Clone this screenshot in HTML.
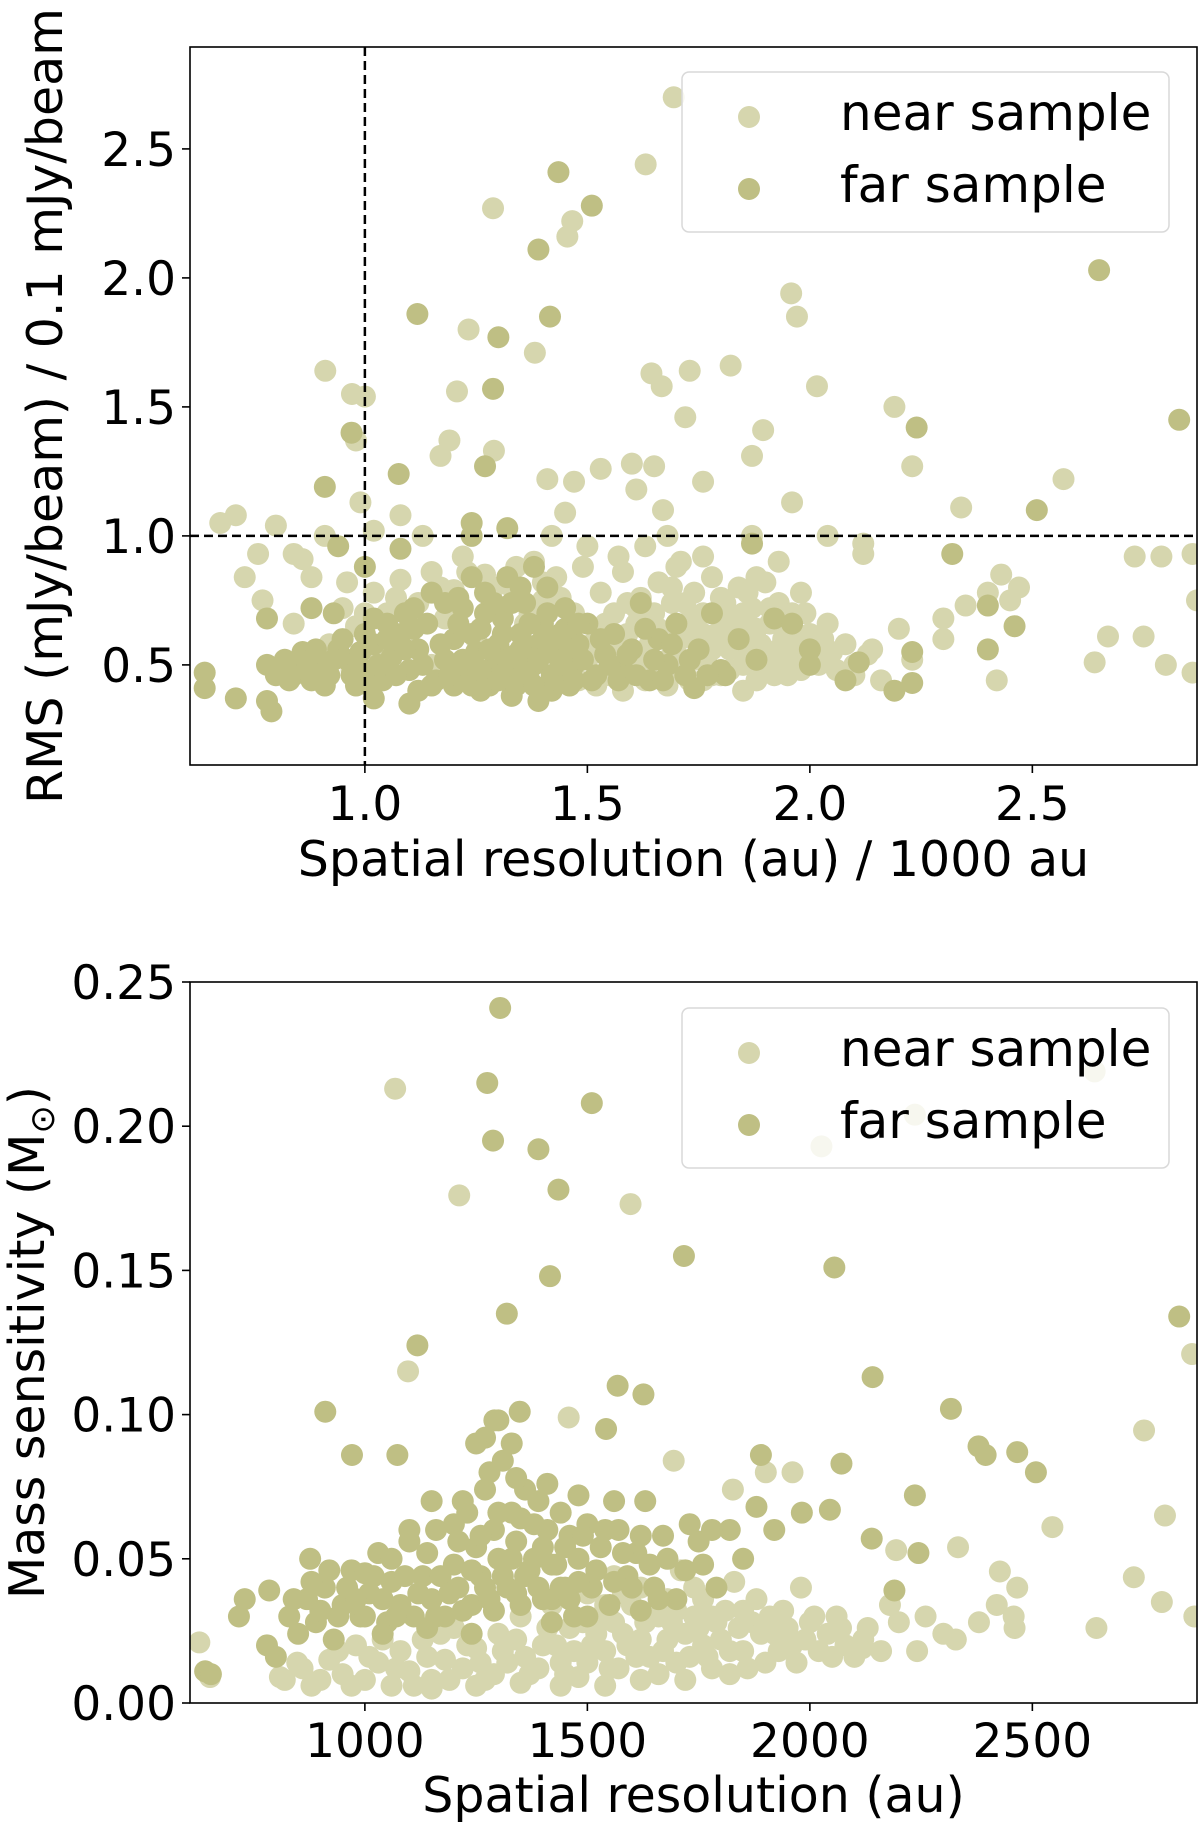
<!DOCTYPE html>
<html><head><meta charset="utf-8"><style>
html,body{margin:0;padding:0;background:#fff;}
svg{display:block;font-family:"DejaVu Sans","Liberation Sans",sans-serif;}
</style></head><body>
<svg id="fig" width="1200" height="1822" viewBox="0 0 1200 1822" xmlns="http://www.w3.org/2000/svg">
<g id="top"></g>
<g id="bot"></g>
</svg>
<script>
// ---- Top panel data (x: resolution / 1000 au, y: RMS / 0.1 mJy/beam) ----
const topNear = [[1.694,2.70],[1.631,2.44],[1.288,2.27],[1.466,2.22],[1.455,2.16],[1.958,1.94],[1.971,1.85],[1.233,1.80],[1.382,1.71],[1.822,1.66],[0.911,1.64],[1.644,1.63],[1.730,1.64],[2.016,1.58],[1.207,1.56],[1.667,1.58],[0.971,1.55],[1.0,1.54],[2.19,1.50],[1.72,1.46],[1.895,1.41],[1.19,1.37],[1.29,1.33],[1.87,1.31],[1.17,1.31],[0.98,1.37],[1.60,1.28],[1.65,1.27],[1.41,1.22],[1.53,1.26],[1.47,1.21],[1.76,1.21],[2.23,1.27],[2.57,1.22],[1.61,1.18],[0.99,1.13],[1.96,1.13],[2.34,1.11],[1.45,1.09],[1.67,1.10],[1.08,1.08],[0.675,1.05],[0.71,1.08],[0.80,1.04],[0.91,1.00],[1.02,1.02],[1.42,1.0],[1.68,1.0],[1.87,1.0],[2.04,1.0],[2.12,0.97],[2.12,0.93],[2.73,0.92],[2.79,0.92],[2.86,0.93],[0.84,0.93],[0.76,0.93],[0.73,0.84],[0.77,0.75],[2.43,0.85],[2.47,0.80],[2.87,0.75],[2.67,0.61],[2.75,0.61],[2.64,0.51],[2.80,0.50],[2.86,0.47],[2.42,0.44],[2.23,0.52],[2.30,0.60],[2.30,0.68],[2.35,0.73],[2.40,0.78],[2.45,0.75],[2.20,0.64],[2.14,0.56],[2.10,0.50],[2.05,0.55],
[0.92,0.58],[0.95,0.72],[0.98,0.65],[1.02,0.78],[1.05,0.70],[1.08,0.83],[1.10,0.62],[1.12,0.74],[1.15,0.86],[1.18,0.68],[1.20,0.79],[1.22,0.92],[1.25,0.60],[1.27,0.85],[1.30,0.72],[1.33,0.80],[1.36,0.66],[1.38,0.90],[1.40,0.75],[1.43,0.84],[1.45,0.58],[1.47,0.70],[1.49,0.88],[1.50,0.52],[1.52,0.64],[1.53,0.78],[1.55,0.46],[1.56,0.70],[1.57,0.58],[1.58,0.86],[1.60,0.50],[1.61,0.66],[1.62,0.76],[1.63,0.44],[1.64,0.58],[1.65,0.70],[1.66,0.82],[1.67,0.48],[1.68,0.62],[1.69,0.74],[1.70,0.54],[1.71,0.90],[1.72,0.66],[1.73,0.44],[1.74,0.78],[1.75,0.58],[1.76,0.70],[1.77,0.50],[1.78,0.84],[1.79,0.62],[1.80,0.46],[1.81,0.74],[1.82,0.56],[1.83,0.68],[1.84,0.80],[1.85,0.50],[1.86,0.62],[1.87,0.72],[1.88,0.44],[1.89,0.58],[1.90,0.82],[1.91,0.66],[1.92,0.52],[1.93,0.74],[1.94,0.60],[1.95,0.46],[1.96,0.70],[1.97,0.56],[1.98,0.78],[2.00,0.62],[2.02,0.50],[2.04,0.66],[2.06,0.48],[2.08,0.58],[2.10,0.46],[2.13,0.54],[2.16,0.44],[1.35,0.45],[1.42,0.50],[1.48,0.44],[1.58,0.40],[1.52,0.42],[1.68,0.42],[1.25,0.48],[1.15,0.50],[1.03,0.55],[0.97,0.48],[0.88,0.84],[0.86,0.91],[0.84,0.66],[1.13,1.00],[1.50,0.96],[1.57,0.92],[1.63,0.96],[1.70,0.88],[1.88,0.84],[1.93,0.90],[1.76,0.92],
[1.51,0.58],[1.54,0.66],[1.56,0.52],[1.59,0.62],[1.61,0.72],[1.63,0.54],[1.66,0.64],[1.68,0.52],[1.71,0.60],[1.72,0.74],[1.74,0.52],[1.76,0.62],[1.78,0.56],[1.79,0.70],[1.81,0.64],[1.82,0.48],[1.84,0.58],[1.85,0.70],[1.87,0.54],[1.88,0.64],[1.90,0.50],[1.91,0.72],[1.93,0.56],[1.94,0.66],[1.96,0.52],[1.97,0.62],[1.99,0.70],[2.01,0.56],[2.03,0.60],[1.86,0.78],[1.80,0.76],[1.74,0.68],[1.69,0.80],[1.64,0.66],[1.59,0.74],[1.54,0.60],[1.46,0.64],[1.44,0.76],[1.40,0.82],[1.37,0.70],[1.34,0.88],[1.29,0.80],[1.17,0.80],[1.23,0.86],[1.07,0.76],[1.00,0.70],[0.96,0.82],[1.85,0.40],[1.76,0.44],[1.62,0.48],[1.70,0.48],[1.78,0.46],[1.92,0.46],[1.98,0.48],[1.73,0.62]];
const topFar = [[1.435,2.41],[1.51,2.28],[1.39,2.11],[2.65,2.03],[1.118,1.86],[1.416,1.85],[1.30,1.77],[1.288,1.57],[2.83,1.45],[2.24,1.42],[0.97,1.40],[1.076,1.24],[1.27,1.27],[0.91,1.19],[2.51,1.10],[1.24,1.05],[1.32,1.03],[1.24,1.0],[0.94,0.96],[1.87,0.97],[2.32,0.93],[1.08,0.95],[1.0,0.88],[0.88,0.72],[0.78,0.68],[2.46,0.65],[2.40,0.73],[2.23,0.55],[2.40,0.56],[0.64,0.47],[0.64,0.41],[0.71,0.37],[0.78,0.36],[0.79,0.32],[0.84,0.46],[1.02,0.37],[1.10,0.35],[1.39,0.36],[1.74,0.41],[2.19,0.40],[2.23,0.43],[2.08,0.44],[2.0,0.50],[2.11,0.51],[1.81,0.46],
[0.78,0.50],[0.80,0.46],[0.82,0.52],[0.84,0.48],[0.86,0.55],[0.88,0.44],[0.90,0.50],[0.92,0.46],[0.94,0.56],[0.96,0.52],[0.98,0.42],[1.00,0.48],[1.02,0.58],[1.04,0.44],[1.06,0.53],[1.08,0.62],[1.10,0.48],[1.12,0.56],[1.14,0.66],[1.16,0.44],[1.18,0.52],[1.20,0.60],[1.22,0.72],[1.23,0.46],[1.25,0.55],[1.26,0.64],[1.27,0.78],[1.28,0.42],[1.29,0.50],[1.30,0.58],[1.31,0.68],[1.32,0.84],[1.33,0.46],[1.34,0.54],[1.35,0.62],[1.36,0.74],[1.37,0.44],[1.38,0.50],[1.39,0.58],[1.40,0.66],[1.41,0.80],[1.42,0.46],[1.43,0.54],[1.44,0.62],[1.45,0.72],[1.46,0.42],[1.47,0.50],[1.48,0.58],[1.50,0.66],[1.52,0.46],[1.54,0.54],[1.56,0.62],[1.58,0.48],[1.60,0.56],[1.62,0.74],[1.64,0.44],[1.66,0.60],[1.68,0.50],[1.70,0.66],[1.72,0.46],[1.75,0.56],[1.78,0.70],[1.80,0.48],[1.84,0.60],[1.88,0.52],[1.92,0.68],[1.96,0.66],[2.00,0.56],[1.15,0.78],[1.05,0.66],[0.95,0.60],[1.24,0.84],[1.18,0.74],[1.38,0.88],[1.12,0.40],[1.20,0.42],[1.26,0.40],[1.33,0.38],[1.42,0.40],[0.93,0.70],[1.00,0.62],[1.09,0.70],
[0.83,0.44],[0.87,0.50],[0.89,0.56],[0.91,0.42],[0.93,0.52],[0.97,0.46],[0.99,0.55],[1.01,0.42],[1.03,0.50],[1.05,0.60],[1.07,0.46],[1.09,0.56],[1.11,0.64],[1.13,0.50],[1.15,0.42],[1.17,0.58],[1.19,0.46],[1.21,0.66],[1.22,0.52],[1.24,0.42],[1.24,0.62],[1.26,0.48],[1.27,0.70],[1.28,0.56],[1.30,0.44],[1.31,0.62],[1.32,0.52],[1.33,0.74],[1.34,0.42],[1.35,0.56],[1.36,0.48],[1.37,0.66],[1.38,0.42],[1.39,0.52],[1.40,0.60],[1.41,0.70],[1.42,0.56],[1.43,0.44],[1.44,0.50],[1.45,0.64],[1.46,0.56],[1.47,0.44],[1.48,0.66],[1.49,0.52],[1.51,0.44],[1.53,0.60],[1.55,0.50],[1.57,0.44],[1.59,0.54],[1.61,0.46],[1.63,0.64],[1.65,0.52],[1.67,0.44],[1.69,0.58],[1.73,0.52],[1.77,0.46],[1.21,0.76],[1.29,0.74],[1.35,0.80],[1.11,0.72],[1.02,0.68]];
const topXTicks = [1.0,1.5,2.0,2.5];
const topYTicks = [0.5,1.0,1.5,2.0,2.5];
const topXTickLabels = ["1.0","1.5","2.0","2.5"];
const topYTickLabels = ["0.5","1.0","1.5","2.0","2.5"];
const topRefX = 1.0, topRefY = 1.0;

// ---- Bottom panel data (x: resolution au, y: mass sensitivity Msun) ----
const botNear = [[1068,0.213],[1212,0.176],[1597,0.173],[2640,0.219],[2026,0.193],[2236,0.204],[1097,0.115],[2859,0.121],[2751,0.0945],[2798,0.065],[2545,0.061],[2728,0.0436],[2791,0.035],[2864,0.030],[2644,0.026],[2466,0.040],[2427,0.0456],[2333,0.054],[2458,0.030],[2194,0.053],[1961,0.080],[1901,0.080],[1827,0.074],[1694,0.084],[1458,0.099],[2328,0.022],[2241,0.018],[2118,0.019],[628,0.021],[652,0.009],[809,0.009],[848,0.014],
[820,0.008],[860,0.012],[880,0.006],[920,0.015],[950,0.010],[980,0.020],[1000,0.008],[1030,0.014],[1060,0.006],[1080,0.018],[1100,0.011],[1130,0.022],[1150,0.008],[1180,0.015],[1200,0.026],[1220,0.012],[1250,0.019],[1270,0.008],[1300,0.024],[1320,0.014],[1350,0.030],[1370,0.010],[1400,0.020],[1420,0.034],[1440,0.014],[1460,0.026],[1480,0.009],[1500,0.038],[1510,0.020],[1530,0.030],[1550,0.012],[1560,0.044],[1580,0.024],[1600,0.034],[1610,0.016],[1630,0.028],[1650,0.040],[1660,0.010],[1680,0.022],[1700,0.032],[1710,0.046],[1730,0.016],[1750,0.026],[1760,0.036],[1780,0.012],[1800,0.022],[1810,0.032],[1830,0.042],[1850,0.018],[1870,0.028],[1880,0.036],[1900,0.014],[1920,0.024],[1940,0.032],[1960,0.020],[1980,0.040],[2000,0.028],[2020,0.018],[2040,0.024],[2060,0.030],[2080,0.020],[2100,0.016],[2130,0.026],[2160,0.018],[2180,0.034],[2200,0.028],[2260,0.030],[2300,0.024],[2380,0.028],[2420,0.034],[2460,0.026],[1540,0.006],[1620,0.008],[1720,0.008],[1820,0.010],[1440,0.006],[1350,0.007],[1250,0.006],[1150,0.005],
[900,0.008],[940,0.018],[970,0.006],[1010,0.016],[1040,0.022],[1070,0.012],[1110,0.006],[1140,0.016],[1170,0.024],[1190,0.008],[1230,0.020],[1260,0.014],[1290,0.010],[1310,0.018],[1340,0.022],[1360,0.016],[1390,0.012],[1410,0.026],[1430,0.020],[1450,0.010],[1470,0.018],[1490,0.028],[1500,0.014],[1520,0.024],[1540,0.018],[1560,0.028],[1570,0.012],[1590,0.020],[1620,0.022],[1640,0.016],[1660,0.030],[1670,0.018],[1690,0.028],[1700,0.014],[1720,0.024],[1740,0.030],[1760,0.020],[1770,0.016],[1790,0.028],[1820,0.018],[1840,0.026],[1860,0.012],[1890,0.024],[1910,0.030],[1930,0.018],[1950,0.026],[1970,0.014],[1990,0.022],[2010,0.030],[2050,0.016],[2070,0.026],[2120,0.022],[1580,0.038],[1620,0.040],[1680,0.036],[1740,0.040],[1540,0.034],[1780,0.030],[1850,0.032]];
const botFar = [[1304,0.241],[1275,0.215],[1288,0.195],[1510,0.208],[1390,0.192],[1435,0.178],[1717,0.155],[2055,0.151],[1416,0.148],[1319,0.135],[2830,0.134],[1118,0.124],[2141,0.113],[1568,0.110],[1626,0.107],[911,0.101],[2317,0.102],[971,0.086],[1073,0.086],[1542,0.095],[1348,0.101],[1291,0.098],[1890,0.086],[2379,0.089],[2395,0.086],[2466,0.087],[2508,0.080],[2071,0.083],[2236,0.072],[1982,0.066],[2045,0.067],[2139,0.057],[2244,0.052],[2190,0.039],[877,0.050],[785,0.039],[730,0.036],[641,0.011],[654,0.010],[717,0.030],
[780,0.020],[800,0.016],[830,0.030],[850,0.024],[870,0.036],[890,0.028],[910,0.040],[930,0.022],[950,0.034],[970,0.046],[990,0.030],[1010,0.038],[1030,0.052],[1050,0.028],[1060,0.042],[1080,0.034],[1100,0.056],[1110,0.030],[1130,0.044],[1150,0.036],[1160,0.060],[1180,0.030],[1200,0.048],[1210,0.040],[1230,0.066],[1240,0.034],[1250,0.054],[1260,0.044],[1270,0.074],[1280,0.036],[1290,0.060],[1300,0.050],[1310,0.084],[1320,0.040],[1330,0.066],[1340,0.056],[1350,0.034],[1360,0.074],[1370,0.046],[1380,0.062],[1390,0.040],[1400,0.054],[1410,0.076],[1420,0.036],[1430,0.048],[1440,0.066],[1450,0.040],[1460,0.058],[1470,0.030],[1480,0.050],[1500,0.062],[1510,0.040],[1530,0.054],[1550,0.034],[1570,0.060],[1590,0.044],[1610,0.052],[1630,0.070],[1650,0.040],[1670,0.058],[1700,0.036],[1730,0.062],[1760,0.048],[1790,0.040],[1820,0.060],[1850,0.050],[1880,0.068],[1920,0.060],[1270,0.092],[1300,0.098],[1330,0.090],[1250,0.090],[1100,0.060],[1000,0.045],[1150,0.070],[1200,0.062],[1480,0.072],[1560,0.070],
[840,0.036],[880,0.042],[900,0.032],[920,0.046],[940,0.030],[960,0.040],[980,0.036],[1000,0.030],[1020,0.044],[1040,0.036],[1060,0.050],[1070,0.030],[1090,0.044],[1120,0.038],[1140,0.052],[1160,0.030],[1170,0.044],[1190,0.038],[1210,0.056],[1220,0.032],[1240,0.046],[1260,0.058],[1270,0.040],[1290,0.032],[1300,0.066],[1310,0.044],[1330,0.050],[1340,0.038],[1350,0.064],[1360,0.044],[1380,0.050],[1390,0.070],[1400,0.036],[1410,0.060],[1420,0.048],[1440,0.040],[1450,0.054],[1460,0.036],[1480,0.042],[1490,0.058],[1500,0.030],[1520,0.046],[1540,0.060],[1560,0.042],[1580,0.052],[1600,0.040],[1620,0.058],[1640,0.048],[1660,0.036],[1680,0.050],[1720,0.046],[1750,0.056],[1780,0.060],[1220,0.070],[1280,0.080],[1340,0.078],[1240,0.024],[1140,0.026],[1040,0.024],[1420,0.028],[1620,0.032]];
const botXTicks = [1000,1500,2000,2500];
const botYTicks = [0,0.05,0.10,0.15,0.20,0.25];
const botXTickLabels = ["1000","1500","2000","2500"];
const botYTickLabels = ["0.00","0.05","0.10","0.15","0.20","0.25"];

const NEAR = "#d6d6ae", FAR = "#bfbf84";
const NS = "http://www.w3.org/2000/svg";
function mk(parent, tag, attrs, text){
  const e = document.createElementNS(NS, tag);
  for (const k in attrs) e.setAttribute(k, attrs[k]);
  if (text !== undefined) e.textContent = text;
  parent.appendChild(e);
  return e;
}

function panel(g, cfg){
  const L=190, R=1197, T=cfg.top, B=cfg.bottom;
  const sx = v => L + (v - cfg.xmin)/(cfg.xmax - cfg.xmin)*(R-L);
  const sy = v => B - (v - cfg.ymin)/(cfg.ymax - cfg.ymin)*(B-T);
  const clipId = cfg.id + "-clip";
  const defs = mk(g, "defs", {});
  const cp = mk(defs, "clipPath", {id: clipId});
  mk(cp, "rect", {x:L, y:T, width:R-L, height:B-T});
  const plot = mk(g, "g", {"clip-path": "url(#"+clipId+")"});
  
  
  cfg.near.forEach(p => {
    const c = mk(plot, "circle", {cx:sx(p[0]), cy:sy(p[1]), r:11, fill:NEAR});
    
    
  });
  cfg.far.forEach(p => {
    const c = mk(plot, "circle", {cx:sx(p[0]), cy:sy(p[1]), r:11, fill:FAR});
    
    
  });
  if (cfg.refX !== undefined){
    const vl = mk(plot, "line", {x1:sx(cfg.refX), x2:sx(cfg.refX), y1:T, y2:B, stroke:"#000", "stroke-width":2.5, "stroke-dasharray":"9,5"});
    
    
    const hl = mk(plot, "line", {x1:L, x2:R, y1:sy(cfg.refY), y2:sy(cfg.refY), stroke:"#000", "stroke-width":2.5, "stroke-dasharray":"9,5"});
    
    
  }
  const frame = mk(g, "rect", {x:L, y:T, width:R-L, height:B-T, fill:"none", stroke:"#000", "stroke-width":1.6});
  
  
  cfg.xt.forEach((v,i) => {
    const x = sx(v);
    mk(g, "line", {x1:x, x2:x, y1:B, y2:B+8, stroke:"#000", "stroke-width":1.6});
    const t = mk(g, "text", {x:x, y:cfg.xtY, "text-anchor":"middle", "font-size":47, fill:"#000"}, cfg.xtl[i]);
    
    
  });
  cfg.yt.forEach((v,i) => {
    const y = sy(v);
    mk(g, "line", {x1:L-8, x2:L, y1:y, y2:y, stroke:"#000", "stroke-width":1.6});
    const t = mk(g, "text", {x:L-14, y:y+17, "text-anchor":"end", "font-size":47, fill:"#000"}, cfg.ytl[i]);
    
    
  });
  const xl = mk(g, "text", {x:(L+R)/2, y:cfg.xlY, "text-anchor":"middle", "font-size":49, fill:"#000"}, cfg.xlabel);
  
  
  const yl = mk(g, "text", {x:0, y:0, "text-anchor":"middle", "font-size":49, fill:"#000", transform:"translate("+cfg.ylX+","+((T+B)/2)+") rotate(-90)"});
  yl.innerHTML = cfg.ylabel;
  
  
  const lg = mk(g, "g", {});
  
  
  const ly = cfg.legTop;
  mk(lg, "rect", {x:682, y:ly, width:487, height:160, rx:7, fill:"rgba(255,255,255,0.8)", stroke:"#d9d9d9", "stroke-width":1.5});
  const e1 = mk(lg, "g", {});
  
  
  mk(e1, "circle", {cx:749, cy:ly+45, r:11, fill:NEAR});
  mk(e1, "text", {x:840, y:ly+58, "font-size":50, fill:"#000"}, "near sample");
  const e2 = mk(lg, "g", {});
  
  
  mk(e2, "circle", {cx:749, cy:ly+117, r:11, fill:FAR});
  mk(e2, "text", {x:840, y:ly+130, "font-size":50, fill:"#000"}, "far sample");
}

panel(document.getElementById("top"), {id:"top", top:47, bottom:765, xmin:0.607, xmax:2.87, ymin:0.112, ymax:2.895,
  near:topNear, far:topFar, xt:topXTicks, xtl:topXTickLabels, yt:topYTicks, ytl:topYTickLabels,
  refX:topRefX, refY:topRefY, xtY:820, xlY:876, ylX:62,
  xlabel:"Spatial resolution (au) / 1000 au", ylabel:"RMS (mJy/beam) / 0.1 mJy/beam", legTop:72});
panel(document.getElementById("bot"), {id:"bot", top:982, bottom:1703, xmin:607, xmax:2870, ymin:0, ymax:0.25,
  near:botNear, far:botFar, xt:botXTicks, xtl:botXTickLabels, yt:botYTicks, ytl:botYTickLabels,
  xtY:1757, xlY:1812, ylX:44,
  xlabel:"Spatial resolution (au)", ylabel:"Mass sensitivity (M<tspan font-size='34' dy='10'>\u2299</tspan><tspan dy='-10'>)</tspan>", legTop:1008});
</script>
</body></html>
